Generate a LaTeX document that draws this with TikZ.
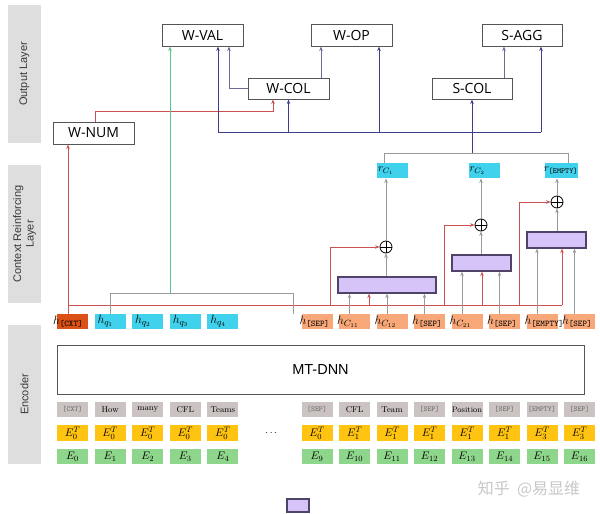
\documentclass[tikz,border=0pt]{standalone}
\usepackage{fontspec}
\usepackage{amsmath}
\setsansfont{Liberation Sans}
\newfontfamily\boxfont{Open Sans}
\newfontfamily\cjkfont{Noto Sans CJK SC}
\usetikzlibrary{arrows.meta,calc}
\definecolor{sideg}{HTML}{DEDEDE}
\definecolor{sidet}{HTML}{3A3A3A}
\definecolor{cyanb}{HTML}{40D2EC}
\definecolor{peach}{HTML}{F8A878}
\definecolor{cxt}{HTML}{DC5216}
\definecolor{purf}{HTML}{D6C3F7}
\definecolor{purd}{HTML}{4F4468}
\definecolor{tokg}{HTML}{CBC2C2}
\definecolor{tokt}{HTML}{6A6A6A}
\definecolor{yel}{HTML}{FFC312}
\definecolor{grn}{HTML}{8ED68B}
\definecolor{navy}{HTML}{3E3E8C}
\definecolor{gnavy}{HTML}{6C6C96}
\definecolor{redl}{HTML}{CC5252}
\definecolor{grnl}{HTML}{55C98A}
\definecolor{grayl}{HTML}{9A9A9A}
\definecolor{bord}{HTML}{555555}
\definecolor{wm}{HTML}{C8C8C8}
\newcommand\tk[1]{{\ttfamily\fontsize{7.5}{8}\selectfont\color{tokt}#1}}
\newcommand\wrd[1]{{\rmfamily\fontsize{8.5}{9}\selectfont #1}}
\begin{document}
\begin{tikzpicture}[x=1pt,y=-1pt,
  sidebox/.style={fill=sideg, rotate=90, minimum height=33pt, inner sep=0pt,
    font=\sffamily\fontsize{11}{12.5}\selectfont, text=sidet, align=center},
  outbox/.style={draw=bord, line width=1pt, fill=white, minimum width=81pt,
    minimum height=22pt, inner sep=0pt, font=\boxfont\fontsize{14}{14}\selectfont},
  tok/.style={minimum width=31pt, minimum height=15.5pt, inner sep=0pt},
  etok/.style={tok, font=\fontsize{11}{11}\selectfont},
  hlab/.style={anchor=west, inner sep=0pt, font=\fontsize{12.5}{12.5}\selectfont},
  pbox/.style={draw=purd, line width=1.2pt, fill=purf, inner sep=0pt, minimum height=16pt},
  plusnode/.style={circle, draw=black, line width=0.8pt, minimum size=12pt, inner sep=0pt,
    path picture={\draw[line width=0.8pt] (path picture bounding box.north) -- (path picture bounding box.south)
      (path picture bounding box.west) -- (path picture bounding box.east);}},
  tip/.style={-{Stealth[length=4.5pt,width=3.5pt]}},
  nv/.style={draw=navy, line width=0.8pt},
  gnv/.style={draw=gnavy, line width=0.8pt},
  rl/.style={draw=redl, line width=0.8pt},
  gl/.style={draw=grayl, line width=0.8pt},
  gr/.style={draw=grnl, line width=1pt}
]
\path[fill=white] (0,0) rectangle (600,514);
\useasboundingbox (0,0) rectangle (600,514);

% side labels
\node[sidebox, minimum width=138pt] (lo) at (24.5,74) {Output Layer};
\node[sidebox, minimum width=138pt] (lc) at (24.5,234) {Context Reinforcing\\Layer};
\node[sidebox, minimum width=139pt] (le) at (24.5,394.5) {Encoder};

% output boxes
\node[outbox] (wval) at (202.5,35) {W-VAL};
\node[outbox] (wop) at (351.5,35) {W-OP};
\node[outbox, minimum width=80pt] (sagg) at (522,35) {S-AGG};
\node[outbox, minimum height=21pt] (wcol) at (288.5,88.5) {W-COL};
\node[outbox, minimum width=80pt, minimum height=21pt] (scol) at (472,88.5) {S-COL};
\node[outbox] (wnum) at (93.5,133) {W-NUM};

% MT-DNN
\node[draw=bord, line width=1pt, minimum width=527pt, minimum height=49pt, inner sep=0pt,
  font=\sffamily\fontsize{14.5}{14.5}\selectfont] (mt) at (320.5,369.5) {MT-DNN};

% h row
\node[tok, fill=cxt] (a0) at (72.5,321.5) {};
\node[hlab] (la0) at ([xshift=-4pt]a0.west) {$h_{\texttt{[CXT]}}$};
\foreach \i/\lab in {1/q_1,2/q_2,3/q_3,4/q_4}{
  \node[tok, fill=cyanb] (a\i) at ({72.5+37.6*\i},321.5) {};
  \node[hlab] (la\i) at ([xshift=3pt]a\i.west) {$h_{\lab}$};
}
\foreach \j/\lab in {0/\texttt{[SEP]},1/C_{11},2/C_{12},3/\texttt{[SEP]},4/C_{21},5/\texttt{[SEP]},6/\texttt{[EMPTY]},7/\texttt{[SEP]}}{
  \node[tok, fill=peach] (s\j) at ({317+37.5*\j},321.5) {};
  \node[hlab] (ls\j) at ([xshift=-2pt]s\j.west) {$h_{\lab}$};
}

% word row
\foreach \i/\w in {0/\tk{[CXT]},1/\wrd{How},2/\wrd{many},3/\wrd{CFL},4/\wrd{Teams}}{
  \node[tok, fill=tokg] (wa\i) at ({72.5+37.6*\i},409.5) {\w};
}
\foreach \j/\w in {0/\tk{[SEP]},1/\wrd{CFL},2/\wrd{Team},3/\tk{[SEP]},4/{\rmfamily\fontsize{8}{8}\selectfont Position},5/\tk{[SEP]},6/\tk{[EMPTY]},7/\tk{[SEP]}}{
  \node[tok, fill=tokg] (ws\j) at ({317+37.5*\j},409.5) {\w};
}
% E^T row
\foreach \i in {0,...,4}{
  \node[etok, fill=yel] (ta\i) at ({72.5+37.6*\i},433) {$E_0^T$};
}
\foreach \j/\s in {0/0,1/1,2/1,3/1,4/1,5/1,6/3,7/3}{
  \node[etok, fill=yel] (ts\j) at ({317+37.5*\j},433) {$E_{\s}^T$};
}
% E row
\foreach \i in {0,...,4}{
  \node[etok, fill=grn] (ea\i) at ({72.5+37.6*\i},456.5) {$E_{\i}$};
}
\foreach \j/\s in {0/9,1/10,2/11,3/12,4/13,5/14,6/15,7/16}{
  \node[etok, fill=grn] (es\j) at ({317+37.5*\j},456.5) {$E_{\s}$};
}
\node[font=\fontsize{10}{10}\selectfont] (dots) at (272,433) {$\cdots$};

% purple boxes, oplus, r boxes
\node[pbox, minimum width=98pt] (p1) at (387,285) {};
\node[pbox, minimum width=59pt] (p2) at (481.5,263) {};
\node[pbox, minimum width=59pt] (p3) at (556.5,240) {};
\node[plusnode] (o1) at (386,247) {};
\node[plusnode] (o2) at (481,225) {};
\node[plusnode] (o3) at (557,202) {};
\node[tok, fill=cyanb] (rc1) at (392.5,170.5) {};
\node[tok, fill=cyanb] (rc2) at (484,170.5) {};
\node[tok, fill=cyanb, minimum width=33pt] (rce) at (561.5,170.5) {};
\node[hlab, font=\fontsize{11}{11}\selectfont] (lr1) at ([xshift=1pt]rc1.west) {$r_{C_1}$};
\node[hlab, font=\fontsize{11}{11}\selectfont] (lr2) at ([xshift=1pt]rc2.west) {$r_{C_2}$};
\node[hlab, anchor=east, font=\fontsize{11}{11}\selectfont] (lr3) at ([xshift=0pt]rce.east) {$r_{\texttt{[EMPTY]}}$};

% legend
\node[pbox, minimum width=22pt, minimum height=13pt] (leg) at (298,505.5) {};
% watermark
\node[font=\cjkfont\fontsize{16}{16}\selectfont, text=wm, inner sep=0pt] (wmk) at (529,489) {知乎\ \ @易显维};

% coordinates
\coordinate (gq) at (170,293);
\coordinate (brk) at (472,153);
\coordinate (busL) at (218,132);
\coordinate (busR) at (541,132);
\coordinate (rbL) at (68,305);
\coordinate (rbR) at (562,305);
\coordinate (r1) at (330,305);
\coordinate (r2) at (444,305);
\coordinate (r3) at (519,305);

% red connectors
\draw[rl, tip] ([xshift=-4.5pt]a0.north) -- ([xshift=-4.5pt]a0.north |- wnum.south);
\draw[rl] (rbL) -- (rbR);
\draw[rl, tip] ([xshift=1.5pt]wnum.north) -- ++(0,-10) -| ([xshift=-15.5pt]wcol.south);
\draw[rl, tip] (r1) |- (o1.west);
\draw[rl, tip] (r2) |- (o2.west);
\draw[rl, tip] (r3) |- (o3.west);
\draw[rl, tip] ([xshift=-18pt]p1.south |- rbL) -- ([xshift=-18pt]p1.south);
\draw[rl, tip] ([xshift=0.5pt]p2.south |- rbL) -- ([xshift=0.5pt]p2.south);
\draw[rl, tip] (rbR) -- (rbR |- p3.south);

% gray h -> purple
\foreach \s/\p in {s1/p1,s2/p1,s3/p1,s4/p2,s5/p2,s6/p3,s7/p3}{
  \draw[gl, tip] ([xshift=-5pt]\s.north) -- ([xshift=-5pt]\s.north |- \p.south);
}
% purple -> oplus -> r
\draw[gl, tip] (o1.south |- p1.north) -- (o1.south);
\draw[gl, tip] (o2.south |- p2.north) -- (o2.south);
\draw[gl, tip] (o3.south |- p3.north) -- (o3.south);
\draw[gl, tip] (o1.north) -- (o1.north |- rc1.south);
\draw[gl, tip] (o2.north) -- (o2.north |- rc2.south);
\draw[gl, tip] (o3.north) -- (o3.north |- rce.south);

% bracket over r boxes
\draw[gl] ([xshift=-8.5pt]rc1.north) -- ([xshift=-8.5pt]rc1.north |- brk)
  -- ([xshift=6.5pt]rce.north |- brk) -- ([xshift=6.5pt]rce.north);
% bracket over question tokens
\draw[gl] (a1.north) -- (a1.north |- gq) -- ([xshift=-8pt]s0.north west |- gq) -- ([xshift=-8pt]s0.north west);
% green
\draw[gr, tip] (gq) -- (gq |- wval.south);

% blue
\draw[nv, tip] (brk) -- (scol.south);
\draw[nv] (busL) -- (busR);
\draw[nv, tip] (busL) -- (busL |- wval.south);
\draw[nv, tip] (wcol.south |- busL) -- (wcol.south);
\draw[nv, tip] ([xshift=27.5pt]wop.south |- busL) -- ([xshift=27.5pt]wop.south);
\draw[nv, tip] (busR) -- (busR |- sagg.south);
\draw[gnv, tip] (wcol.west) -| ([xshift=26.5pt]wval.south);
\draw[gnv, tip] ([xshift=32.5pt]wcol.north) -- ([xshift=32.5pt]wcol.north |- wop.south);
\draw[gnv, tip] ([xshift=32pt]scol.north) -- ([xshift=32pt]scol.north |- sagg.south);
\end{tikzpicture}
\end{document}
